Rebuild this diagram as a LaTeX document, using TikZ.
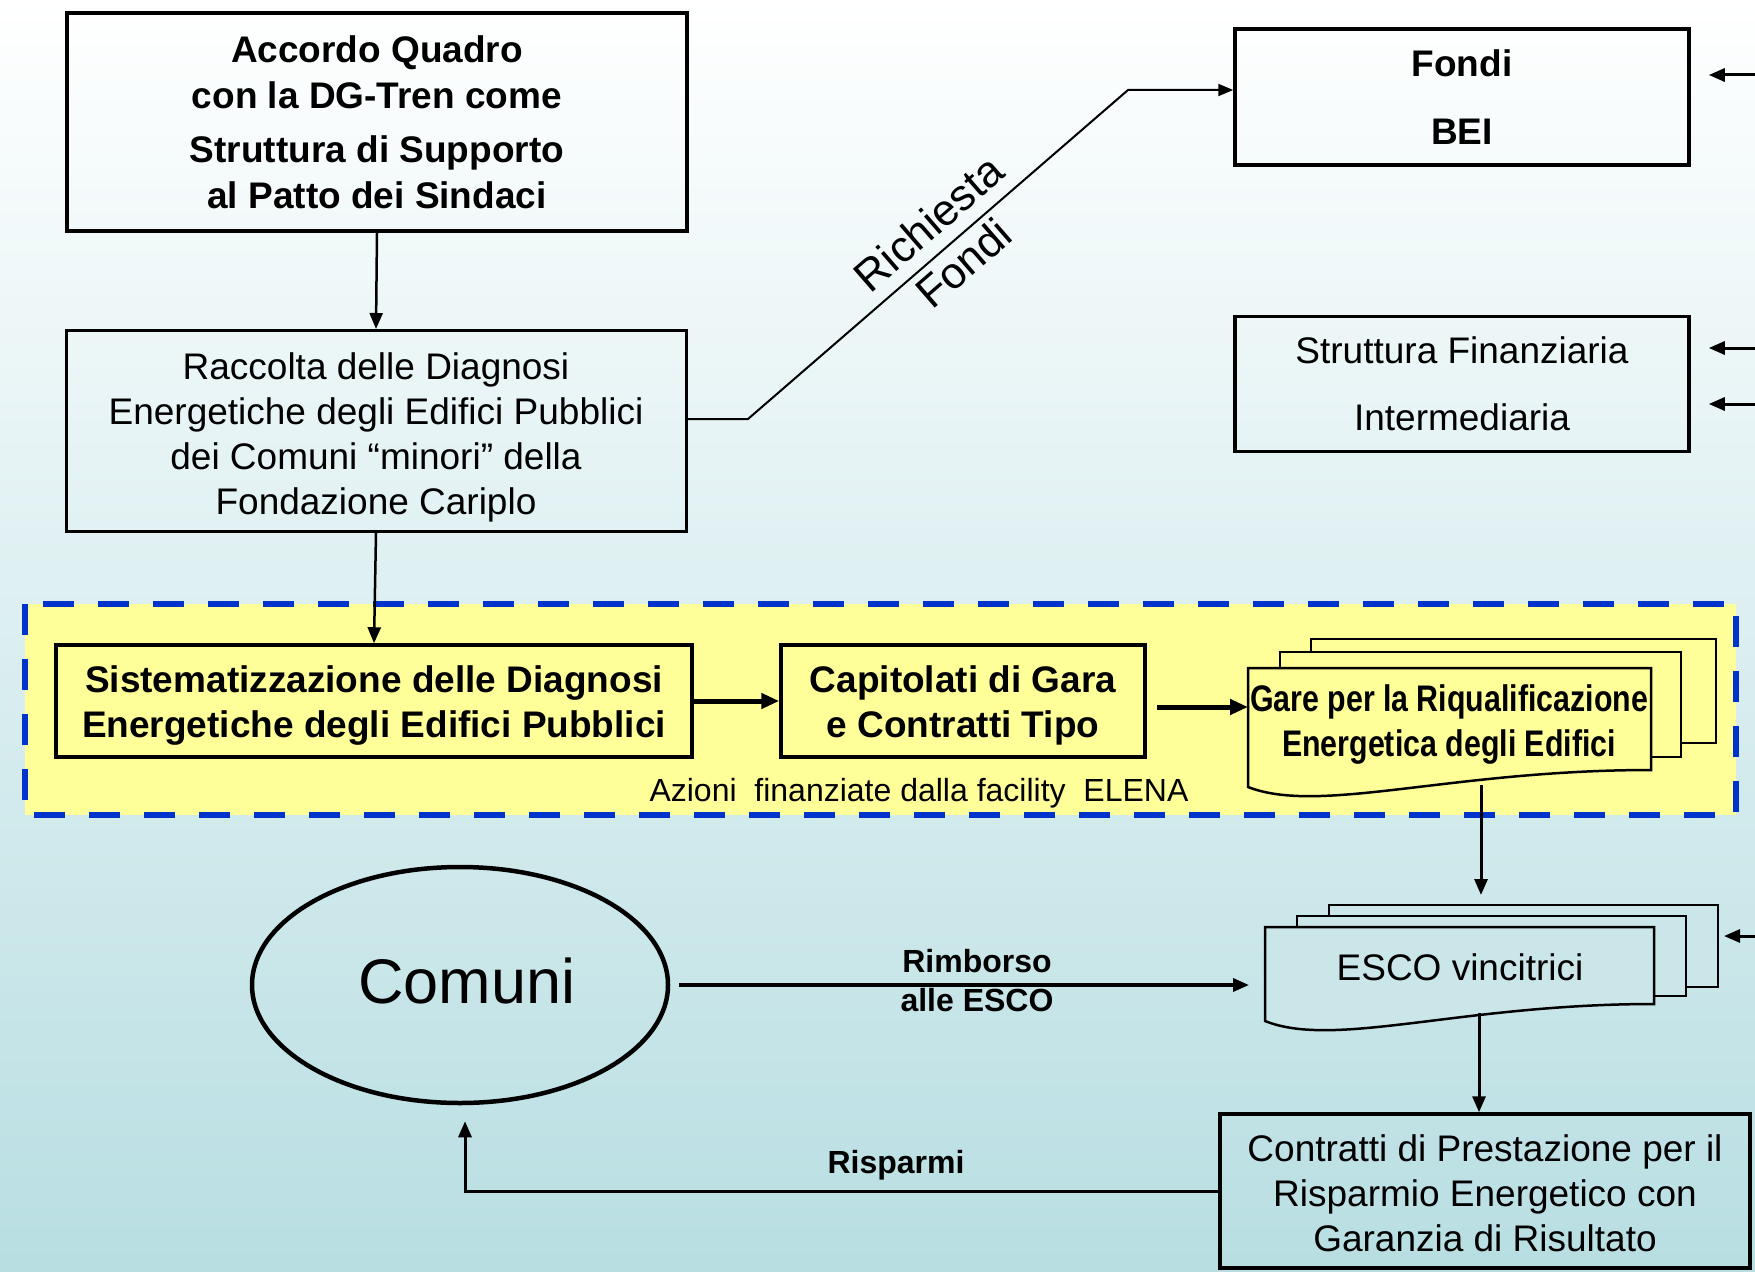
\documentclass[tikz,border=0pt]{standalone}
\usepackage{fontspec}
\setmainfont{Liberation Sans}
\newfontfamily\narrowfont[FakeStretch=0.82]{Liberation Sans}
\usetikzlibrary{arrows.meta,shapes.geometric}
\definecolor{bgbot}{RGB}{184,222,226}
\definecolor{ylw}{RGB}{255,255,153}
\definecolor{dblue}{RGB}{0,51,204}
\definecolor{escofill}{RGB}{202,230,233}
\begin{document}
\begin{tikzpicture}[x=1pt,y=-1pt,
  box/.style={draw, line width=3.5pt, inner sep=0pt, align=center, font=\fontsize{37}{45}\selectfont},
  bbox/.style={box, font=\fontsize{37}{46}\selectfont\bfseries},
  txt/.style={inner sep=0pt, align=center, font=\fontsize{37}{45}\selectfont},
  btxt/.style={txt, font=\fontsize{37}{45}\selectfont\bfseries},
  arr/.style={line width=3pt, -{Triangle[length=16pt,width=13pt]}},
  tarr/.style={line width=5pt, -{Triangle[length=18pt,width=15pt]}},
  doc/.style={draw, line width=2.5pt},
  lbl/.style={font=\fontsize{32}{38}\selectfont\bfseries, inner sep=0pt}
]
\useasboundingbox (0,0) rectangle (1755,1271);
\shade[top color=white, bottom color=bgbot] (0,0) rectangle (1755,1271);

% ELENA area
\draw[dblue, fill=ylw, line width=6pt, dash pattern=on 31pt off 24pt] (25,604) rectangle (1736,815);

% top-left boxes
\node[bbox, minimum width=620pt, minimum height=218pt] (accordo) at (377,122)
  {Accordo Quadro\\con la DG-Tren come\\[8pt]Struttura di Supporto\\al Patto dei Sindaci};
\node[box, line width=3pt, minimum width=620pt, minimum height=201pt,
  label={[txt, yshift=-6pt]center:{Raccolta delle Diagnosi\\Energetiche degli Edifici Pubblici\\dei Comuni “minori” della\\Fondazione Cariplo}}] (raccolta) at (376,431) {};

% right boxes
\node[bbox, minimum width=454pt, minimum height=136pt] (fondi) at (1462,97) {Fondi\\[22pt]BEI};
\node[box, minimum width=454pt, minimum height=135pt] (strutt) at (1462,384) {Struttura Finanziaria\\[22pt]Intermediaria};

% yellow boxes
\node[box, fill=ylw, minimum width=636pt, minimum height=112pt,
  label={[btxt, yshift=-4.5pt]center:{Sistematizzazione delle Diagnosi\\Energetiche degli Edifici Pubblici}}] (sist) at (374,701) {};
\node[box, fill=ylw, minimum width=364pt, minimum height=112pt,
  label={[btxt, yshift=-4.5pt]center:{Capitolati di Gara\\e Contratti Tipo}}] (capit) at (963,701) {};

% Gare document stack
\draw[doc, fill=ylw] (1311,639) rectangle (1716,743);
\draw[doc, fill=ylw] (1280,652) rectangle (1681,757);
\draw[doc, fill=ylw] (1248,668) -- (1651,668) -- (1651,770) .. controls (1450,770) and (1320,815) .. (1248,787) -- cycle;
\node[font=\narrowfont\fontsize{37}{45}\selectfont\bfseries, align=center, inner sep=0pt] (gare) at (1449,725)
  {Gare per la Riqualificazione\\Energetica degli Edifici};

\node[font=\fontsize{32}{38}\selectfont, inner sep=0pt] (azioni) at (919,793) {Azioni\ \ finanziate dalla facility\ \ ELENA};

% ESCO document stack
\draw[doc, fill=escofill] (1329,905) rectangle (1718,987);
\draw[doc, fill=escofill] (1297,916) rectangle (1686,996);
\draw[doc, fill=escofill] (1265,927) -- (1654,927) -- (1654,1004) .. controls (1460,1004) and (1335,1049) .. (1265,1021) -- cycle;
\node[font=\fontsize{37}{45}\selectfont, inner sep=0pt] (esco) at (1460,967) {ESCO vincitrici};

% Comuni
\node[ellipse, draw, line width=4.5pt, minimum width=416pt, minimum height=236pt, inner sep=0pt,
  label={[inner sep=0pt, font=\fontsize{63}{70}\selectfont, yshift=4pt, xshift=7pt]center:Comuni}] (comuni) at (460,985) {};

% Contratti
\node[box, minimum width=530pt, minimum height=154pt,
  label={[txt, yshift=-2pt]center:{Contratti di Prestazione per il\\Risparmio Energetico con\\Garanzia di Risultato}}] (contr) at (1485,1191) {};

% coordinates
\coordinate (c1) at (748,419);
\coordinate (c2) at (1128,90);
\coordinate (gareW) at (1248,707);
\coordinate (gareB) at (1481,785);
\coordinate (escoT) at (1481,905);
\coordinate (escoW) at (1265,982);
\coordinate (escoB) at (1479,1013);
\coordinate (escoE) at (1718,936);
\coordinate (r1) at (1755,75);
\coordinate (r2) at (1755,348);
\coordinate (r3) at (1755,404);
\coordinate (r4) at (1755,936);

% connectors
\draw[arr, line width=2.5pt] (accordo.south) -- (raccolta.north);
\draw[arr, line width=2.5pt] (raccolta.south) -- (sist.north);
\draw[line width=2pt, -{Triangle[length=15pt,width=12pt]}] (raccolta.east |- c1) -- (c1) -- (c2) -- (fondi.west |- c2);
\node[rotate=41, align=center, inner sep=0pt, font=\fontsize{44}{53}\selectfont] (rich) at (946,243) {Richiesta\\Fondi};
\draw[tarr] (sist.east) -- (capit.west);
\draw[tarr, shorten <=10pt] (capit.east |- gareW) -- (gareW);
\draw[arr, shorten >=10pt] (gareB) -- (escoT);
\draw[arr, line width=3.5pt, shorten <=9pt, shorten >=16pt] (comuni.east) -- (escoW |- comuni.east);
\node[lbl] (rimb) at (977,961) {Rimborso};
\node[lbl] (alle) at (977,1000) {alle ESCO};
\draw[arr] (escoB) -- (escoB |- contr.north);
\draw[arr, shorten >=16pt] (contr.west) -| ([xshift=5pt]comuni.south);
\node[lbl] (risp) at (896,1165) {Risparmi};

\draw[arr, shorten >=18pt] (r1) -- (fondi.east |- r1);
\draw[arr, shorten >=18pt] (r2) -- (strutt.east |- r2);
\draw[arr, shorten >=18pt] (r3) -- (strutt.east |- r3);
\draw[arr, shorten >=6pt] (r4) -- (escoE);
\end{tikzpicture}
\end{document}
